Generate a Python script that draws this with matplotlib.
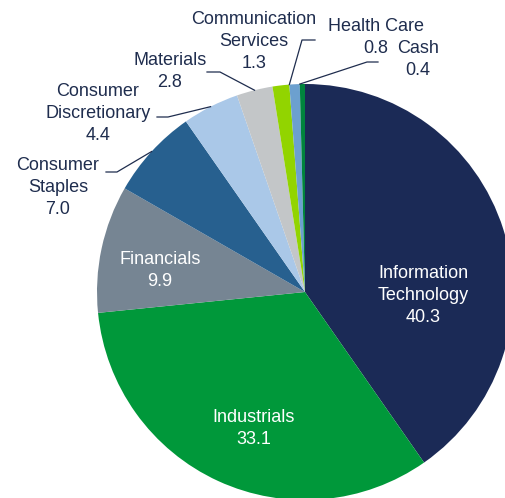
import matplotlib
matplotlib.use("Agg")
import matplotlib.pyplot as plt
import numpy as np

sectors = ["Information\nTechnology", "Industrials", "Financials", "Consumer\nStaples",
           "Consumer\nDiscretionary", "Materials", "Communication\nServices", "Health Care", "Cash"]
weights = [40.3, 33.1, 9.9, 7.0, 4.4, 2.8, 1.3, 0.8, 0.4]
colors = ["#1B2A56", "#00983A", "#768593", "#27608F", "#AAC8E8",
          "#C3C6C8", "#92D400", "#6CA0CF", "#00843D"]

# label centres in pixels (x, y from top), text colour
label_pos = [(423, 295), (254, 429), (160, 270), (58, 187), (98, 113),
             (170, 71), (254, 41), (376, 37), (418, 59)]
label_col = ["white", "white", "white"] + ["#1F2D4E"] * 6
# leader lines: (elbow, end) in pixels, None = no leader
leaders = [None, None, None, ((117, 172), (106, 172)), ((168, 117), (157, 117)),
           ((220, 72), (207, 72)), ((302, 40), (315, 40)), ((367, 62), (378, 62)), None]
# where the leader touches the wedge (0 = start, 0.5 = middle, 1 = end)
anchor = [0.5, 0.5, 0.5, 0.5, 0.5, 0.5, 1.0, 1.0, 0.5]

W, H = 506, 498
cx, cy, R = 305, 292, 208
pitch = 22

plt.rcParams['font.family'] = ['Liberation Sans', 'DejaVu Sans']
fig = plt.figure(figsize=(W / 100, H / 100), dpi=100)
ax = fig.add_axes([0, 0, 1, 1])

ax.pie(weights, colors=colors, startangle=90, counterclock=False,
       radius=R, center=(cx, H - cy), wedgeprops=dict(linewidth=0))

ax.set_xlim(0, W)
ax.set_ylim(0, H)
ax.set_aspect('equal')
ax.axis('off')

cum = np.cumsum([0] + weights[:-1])
for i, name in enumerate(sectors):
    lines = name.split("\n") + ["%.1f" % weights[i]]
    x, y = label_pos[i]
    y0 = y - pitch * (len(lines) - 1) / 2
    for k, ln in enumerate(lines):
        ax.text(x, H - (y0 + k * pitch), ln, ha='center', va='center', fontsize=13,
                color=label_col[i])
    if leaders[i] is not None:
        frac = (cum[i] + weights[i] * anchor[i]) / sum(weights)
        ang = np.deg2rad(90 - frac * 360)
        px = cx + R * np.cos(ang)
        py = cy - R * np.sin(ang)
        (ex, ey), (tx, ty) = leaders[i]
        ax.plot([px, ex, tx], [H - py, H - ey, H - ty], color="#1F2D4E", lw=0.9)

fig.savefig("out.png", dpi=100)
